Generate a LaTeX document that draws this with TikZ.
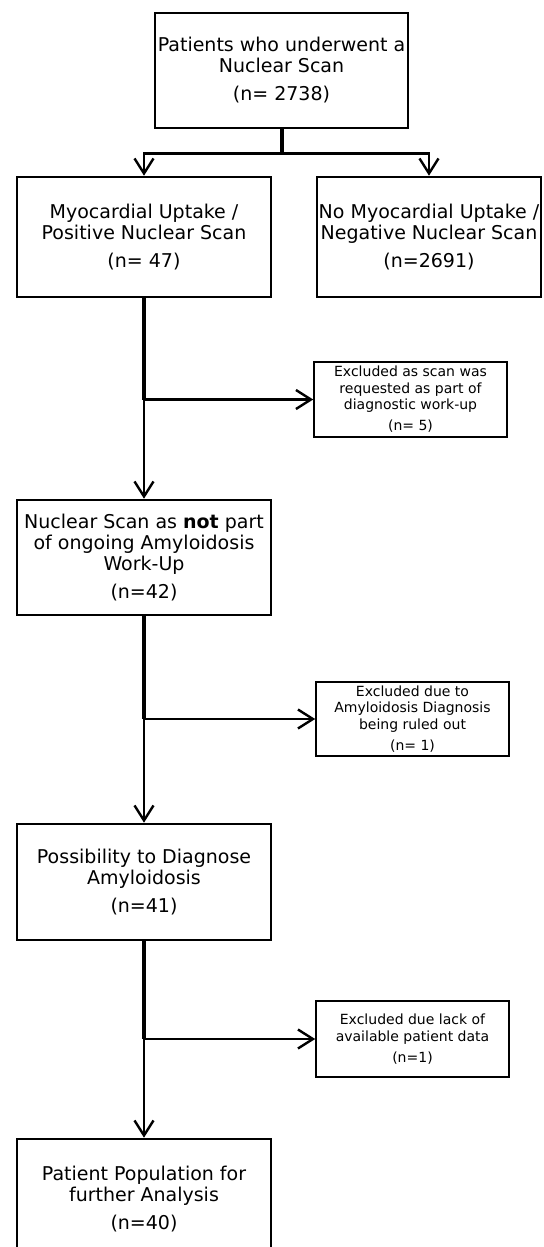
\documentclass[tikz,border=0pt]{standalone}
\usepackage{fontspec}
\setmainfont{DejaVu Sans}
\usepackage{tikz}
\usetikzlibrary{positioning,calc}
\usetikzlibrary{arrows.meta}
\tikzstyle{box} = [rectangle,draw,line width=1.3pt,align=center,inner sep=0pt,font=\fontsize{9.5}{10.5}\selectfont]
\tikzstyle{exbox} = [rectangle,draw,line width=0.8pt,align=center,inner sep=0pt,font=\fontsize{7}{8.3}\selectfont]
\tikzstyle{line} = [line width=1.2pt,-{Straight Barb[length=7.5pt,width=9.5pt]}]
\tikzstyle{stem} = [line width=2pt]

\begin{document}
\begin{tikzpicture}[x=0.5pt,y=0.5pt]
        \useasboundingbox (0,0) rectangle (543,-1247);
        \node[box,minimum width=126.5pt,minimum height=57.5pt] (scan) at (281.5,-70.5) {Patients who underwent a\\Nuclear Scan\\[3.5pt](n= 2738)};
        \node[box,minimum width=127pt,minimum height=60pt] (pos) at (144,-237) {Myocardial Uptake /\\Positive Nuclear Scan\\[3.5pt](n= 47)};
        \node[box,minimum width=112pt,minimum height=60pt] (neg) at (429,-237) {No Myocardial Uptake /\\Negative Nuclear Scan\\[3.5pt](n=2691)};
        \node[exbox,minimum width=96.5pt,minimum height=37.5pt] (excl1) at (410.5,-399.5) {Excluded as scan was\\requested as part of\\diagnostic work-up\\[2.2pt](n= 5)};
        \node[box,minimum width=127pt,minimum height=57.5pt] (notpart) at (144,-557.5) {Nuclear Scan as \textbf{not} part\\of ongoing Amyloidosis\\Work-Up\\[3.5pt](n=42)};
        \node[exbox,minimum width=96.5pt,minimum height=37pt] (excl2) at (412.5,-719) {Excluded due to\\Amyloidosis Diagnosis\\being ruled out\\[2.2pt](n= 1)};
        \node[box,minimum width=127pt,minimum height=58pt] (possible) at (144,-882) {Possibility to Diagnose\\Amyloidosis\\[3.5pt](n=41)};
        \node[exbox,minimum width=96.5pt,minimum height=38pt] (excl3) at (412.5,-1039) {Excluded due lack of\\available patient data\\[2.2pt](n=1)};
        \node[box,minimum width=127pt,minimum height=60pt] (final) at (144,-1199) {Patient Population for\\further Analysis\\[3.5pt](n=40)};

        % split below the first box
        \coordinate (split) at ($(scan.south)+(0,-24)$);
        \draw[stem] (scan.south) -- (split);
        \draw[line] (split) -| (pos);
        \draw[line] (split) -| (neg);

        % exclusions
        \draw[stem] (pos.south) -- (pos.south |- excl1.west);
        \draw[line] (pos.south |- excl1.west) -- (excl1.west);
        \draw[line] (pos.south |- excl1.west) -- (notpart.north);

        \draw[stem] (notpart.south) -- (notpart.south |- excl2.west);
        \draw[line] (notpart.south |- excl2.west) -- (excl2.west);
        \draw[line] (notpart.south |- excl2.west) -- (possible.north);

        \draw[stem] (possible.south) -- (possible.south |- excl3.west);
        \draw[line] (possible.south |- excl3.west) -- (excl3.west);
        \draw[line] (possible.south |- excl3.west) -- (final.north);
    \end{tikzpicture}
\end{document}
